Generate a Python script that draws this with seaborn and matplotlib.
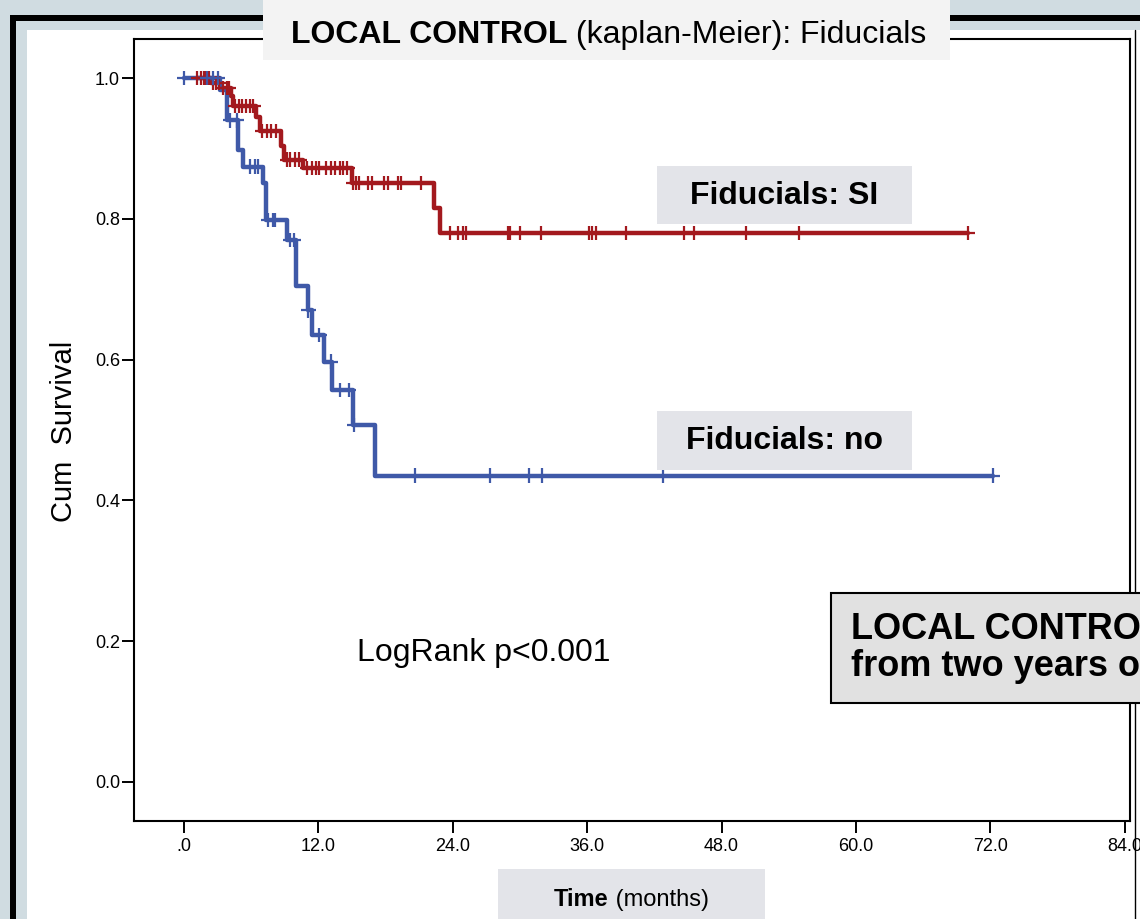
import numpy as np
import pandas as pd
import matplotlib
matplotlib.use("Agg")
import matplotlib.pyplot as plt
import seaborn as sns
from matplotlib.patches import Rectangle
from matplotlib.lines import Line2D

# ---------------- data ----------------
title_bold = "LOCAL CONTROL"
title_rest = " (kaplan-Meier): Fiducials"
group_labels = ["Fiducials: SI", "Fiducials: no"]
x_ticks = [0, 12, 24, 36, 48, 60, 72, 84]
x_tick_labels = [".0", "12.0", "24.0", "36.0", "48.0", "60.0", "72.0", "84.0"]
y_ticks = [0.0, 0.2, 0.4, 0.6, 0.8, 1.0]
y_tick_labels = ["0.0", "0.2", "0.4", "0.6", "0.8", "1.0"]

# Fiducials: SI (red)
si_start, si_end = 1.2, 70.0
si_event_times = [2.4, 3.3, 4.2, 4.4, 6.4, 6.8, 8.7, 8.9, 10.6, 15.0, 22.3, 22.9]
si_surv = [0.993, 0.986, 0.975, 0.960, 0.945, 0.925, 0.903, 0.884, 0.872, 0.851, 0.815, 0.780]
si_censor = [1.2, 1.5, 1.8, 2.0, 2.2, 2.6, 2.9, 3.1, 3.5, 3.8, 4.0,
             4.6, 4.9, 5.2, 5.5, 5.9, 6.2, 7.0, 7.4, 7.8, 8.2,
             9.2, 9.5, 9.9, 10.3, 11.0, 11.4, 11.8, 12.1, 12.7, 13.1, 13.5, 13.9, 14.2, 14.6,
             15.1, 15.4, 15.6, 16.4, 16.8, 17.9, 18.2, 19.1, 19.4, 21.2,
             23.75, 24.5, 24.9, 25.2, 28.96, 29.1, 30.0, 31.9, 36.2, 36.4, 36.8, 39.5,
             44.6, 45.5, 50.2, 54.9, 70.0]

# Fiducials: no (blue)
no_start, no_end = 0.0, 72.2
no_event_times = [3.2, 3.8, 4.8, 5.3, 7.1, 7.3, 9.2, 10.0, 11.1, 11.4, 12.5, 13.2, 15.06, 17.05]
no_surv = [0.983, 0.940, 0.898, 0.874, 0.851, 0.798, 0.770, 0.705, 0.670, 0.635, 0.597, 0.557, 0.507, 0.435]
no_censor = [0.0, 2.1, 2.6, 3.0, 4.1, 4.7, 5.9, 6.3, 6.6, 7.5, 7.95, 8.1, 9.5, 9.8,
             11.1, 12.1, 13.1, 13.9, 14.7, 15.2, 20.6, 27.3, 30.8, 32.0, 42.8, 72.2]

logrank_text = "LogRank p<0.001"
box_text = "LOCAL CONTROL\nfrom two years on"

# ---------------- helpers ----------------
def step_frame(start, end, times, surv, label):
    t = [start] + list(times) + [end]
    s = [1.0] + list(surv) + [surv[-1]]
    return pd.DataFrame({"time": t, "surv": s, "group": label})

def censor_frame(times, ev_times, surv, label):
    ev = np.array(ev_times)
    sv = np.array([1.0] + list(surv))
    idx = np.searchsorted(ev, np.array(times), side="right")
    return pd.DataFrame({"time": times, "surv": sv[idx], "group": label})

red = "#a3191e"
blue = "#3f59a8"

sns.set_theme(style="white")
plt.rcParams["font.family"] = ["Liberation Sans", "DejaVu Sans"]
plt.rcParams["text.color"] = "black"
plt.rcParams["axes.labelcolor"] = "black"
plt.rcParams["xtick.color"] = "black"
plt.rcParams["ytick.color"] = "black"

W, H = 1140, 919
fig = plt.figure(figsize=(W / 100, H / 100), dpi=100, facecolor="#d0dce1")

def fy(y):
    return 1 - y / H

def rect_px(x0, y0, x1, y1, **kw):
    r = Rectangle((x0 / W, 1 - y1 / H), (x1 - x0) / W, (y1 - y0) / H,
                  transform=fig.transFigure, **kw)
    fig.add_artist(r)
    return r

# frame
rect_px(10, 15, 1170, 940, fc="black", ec="none", zorder=-10)
rect_px(16, 21, 1170, 940, fc="#d0dce1", ec="none", zorder=-9)
rect_px(27, 30, 1170, 940, fc="white", ec="none", zorder=-8)
fig.add_artist(Line2D([1135 / W] * 2, [fy(30), fy(925)], color="black", lw=1.0,
                      transform=fig.transFigure, zorder=-7))

ax = fig.add_axes([134 / W, 1 - 821 / H, (1130 - 134) / W, (821 - 39) / H])
ax.set_zorder(1)
ax.set_facecolor("white")

lines = pd.concat([
    step_frame(si_start, si_end, si_event_times, si_surv, group_labels[0]),
    step_frame(no_start, no_end, no_event_times, no_surv, group_labels[1]),
])
cens = pd.concat([
    censor_frame(si_censor, si_event_times, si_surv, group_labels[0]),
    censor_frame(no_censor, no_event_times, no_surv, group_labels[1]),
])
pal = {group_labels[0]: red, group_labels[1]: blue}

sns.lineplot(data=lines, x="time", y="surv", hue="group", palette=pal,
             estimator=None, sort=False, drawstyle="steps-post", lw=3.2,
             legend=False, ax=ax)
sns.scatterplot(data=cens, x="time", y="surv", hue="group", palette=pal,
                marker="+", s=110, linewidth=1.6, legend=False, ax=ax, zorder=3)

ax.set_xlim(-4.46, 84.46)
ax.set_ylim(-0.0554, 1.0554)
ax.set_xticks(x_ticks)
ax.set_xticklabels(x_tick_labels)
ax.set_yticks(y_ticks)
ax.set_yticklabels(y_tick_labels)
ax.tick_params(axis="both", direction="out", length=8.5, width=1.4, colors="black",
               labelsize=13, left=True, bottom=True)
ax.tick_params(axis="y", pad=1.5)
ax.tick_params(axis="x", pad=4)
ax.set_xlabel("")
ax.set_ylabel("")
for sp in ax.spines.values():
    sp.set_visible(True)
    sp.set_color("black")
    sp.set_linewidth(1.5)

# in-plot text
fig.text(357 / W, fy(661), logrank_text, fontsize=23, ha="left", va="baseline",
         color="black", zorder=6)

# group label boxes
rect_px(657, 166, 912, 224, fc="#e3e4e9", ec="none", zorder=5)
fig.text(784.5 / W, fy(196), group_labels[0], fontsize=23, fontweight="bold",
         ha="center", va="center", color="black", zorder=6)
rect_px(657, 411, 912, 470, fc="#e3e4e9", ec="none", zorder=5)
fig.text(784.5 / W, fy(441), group_labels[1], fontsize=23, fontweight="bold",
         ha="center", va="center", color="black", zorder=6)

# bottom-right box
rect_px(831, 593, 1180, 703, fc="#e1e1e1", ec="black", lw=1.5, zorder=5)
fig.text(851 / W, fy(648), box_text, fontsize=26, fontweight="bold",
         ha="left", va="center", linespacing=1.05, color="black", zorder=6)

# title box
rect_px(263, -5, 950, 60, fc="#f3f3f3", ec="none", zorder=5)
t1 = fig.text(291 / W, fy(43), title_bold, fontsize=23, fontweight="bold",
              ha="left", va="baseline", color="black", zorder=6)

# x label box
rect_px(498, 869, 765, 930, fc="#e3e4e9", ec="none", zorder=5)
t3 = fig.text(554 / W, fy(906), "Time", fontsize=17, fontweight="bold",
              ha="left", va="baseline", color="black", zorder=6)

# y label
fig.text(64 / W, fy(431), "Cum  Survival", fontsize=21, rotation=90,
         ha="center", va="center", color="black", zorder=6)

fig.canvas.draw()
r = fig.canvas.get_renderer()
bb1 = t1.get_window_extent(r)
fig.text(bb1.x1 / W, fy(43), title_rest, fontsize=23, ha="left", va="baseline",
         color="black", zorder=6)
bb3 = t3.get_window_extent(r)
fig.text(bb3.x1 / W, fy(906), " (months)", fontsize=17, ha="left", va="baseline",
         color="black", zorder=6)

fig.savefig("out.png", dpi=100, facecolor=fig.get_facecolor())
